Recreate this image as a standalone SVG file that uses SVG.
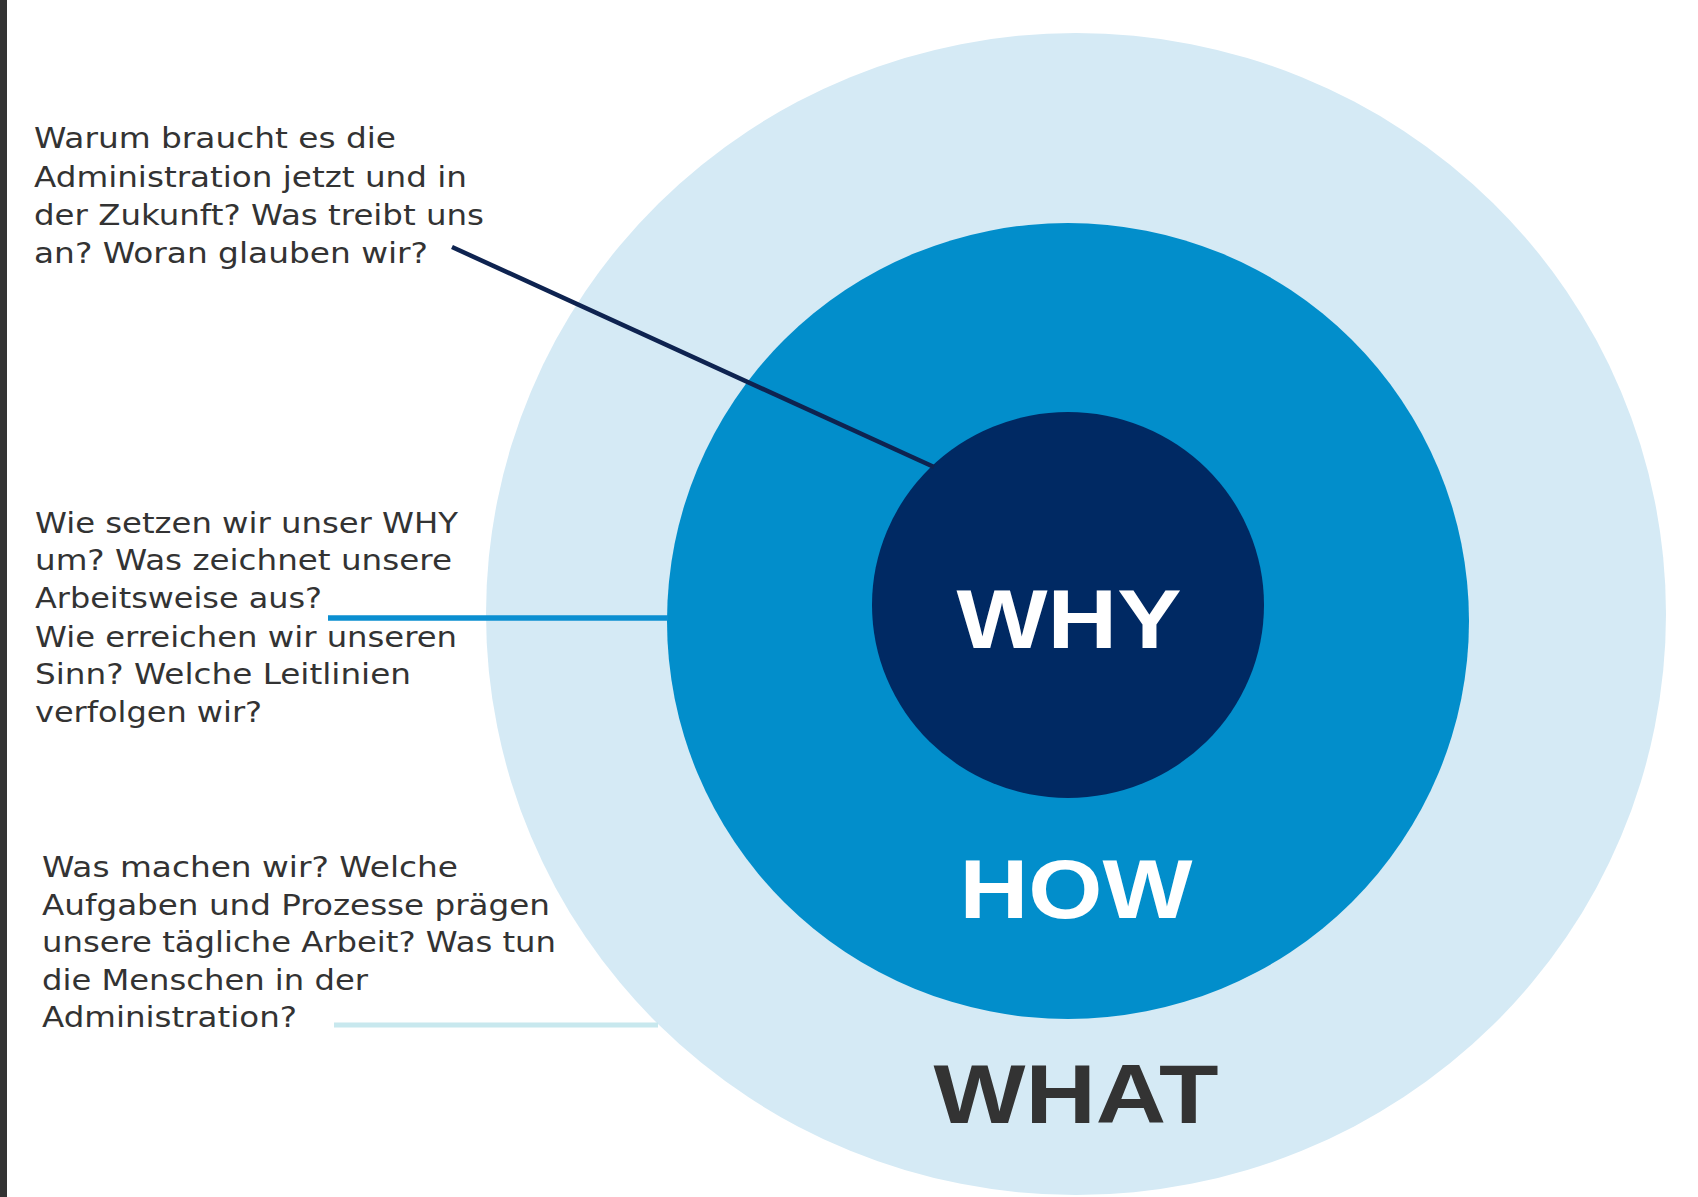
<svg xmlns="http://www.w3.org/2000/svg" width="1698" height="1197" viewBox="0 0 1698 1197">
<style>
.q{font-family:"DejaVu Sans","Open Sans",sans-serif;font-size:29px;fill:#333333;}
.h{font-family:"Liberation Sans","DejaVu Sans",sans-serif;font-weight:bold;font-size:84px;text-anchor:middle;}
</style>
<rect x="0" y="0" width="1698" height="1197" fill="#ffffff"/>
<rect x="0" y="0" width="7" height="1197" fill="#333333"/>
<g id="what">
<ellipse cx="1076" cy="614" rx="590" ry="581" fill="#d5eaf5"/>
<text class="h" x="1076" y="1123" fill="#333333" textLength="285" lengthAdjust="spacingAndGlyphs">WHAT</text>
</g>
<g id="how">
<ellipse cx="1068" cy="621" rx="401" ry="398" fill="#028ecb"/>
<text class="h" x="1076" y="918" fill="#ffffff" textLength="233" lengthAdjust="spacingAndGlyphs">HOW</text>
</g>
<g id="why">
<ellipse cx="1068" cy="605" rx="196" ry="193" fill="#002963"/>
<text class="h" x="1069" y="648" fill="#ffffff" textLength="225" lengthAdjust="spacingAndGlyphs">WHY</text>
</g>
<g id="connectors" fill="none">
<line x1="452" y1="247" x2="934" y2="467" stroke="#0e2350" stroke-width="4.5"/>
<line x1="328" y1="618" x2="668" y2="618" stroke="#0b8fd1" stroke-width="5.5"/>
<line x1="334" y1="1025" x2="658" y2="1025" stroke="#c8e8ee" stroke-width="5"/>
</g>
<g id="why-question">
<text class="q" x="34" y="148" textLength="362" lengthAdjust="spacingAndGlyphs">Warum braucht es die</text>
<text class="q" x="34" y="187" textLength="433" lengthAdjust="spacingAndGlyphs">Administration jetzt und in</text>
<text class="q" x="34" y="225" textLength="450" lengthAdjust="spacingAndGlyphs">der Zukunft? Was treibt uns</text>
<text class="q" x="34" y="263" textLength="394" lengthAdjust="spacingAndGlyphs">an? Woran glauben wir?</text>
</g>
<g id="how-question">
<text class="q" x="35" y="533" textLength="423" lengthAdjust="spacingAndGlyphs">Wie setzen wir unser WHY</text>
<text class="q" x="35" y="570" textLength="417" lengthAdjust="spacingAndGlyphs">um? Was zeichnet unsere</text>
<text class="q" x="35" y="608" textLength="287" lengthAdjust="spacingAndGlyphs">Arbeitsweise aus?</text>
<text class="q" x="35" y="647" textLength="422" lengthAdjust="spacingAndGlyphs">Wie erreichen wir unseren</text>
<text class="q" x="35" y="684" textLength="376" lengthAdjust="spacingAndGlyphs">Sinn? Welche Leitlinien</text>
<text class="q" x="35" y="722" textLength="227" lengthAdjust="spacingAndGlyphs">verfolgen wir?</text>
</g>
<g id="what-question">
<text class="q" x="42" y="877" textLength="416" lengthAdjust="spacingAndGlyphs">Was machen wir? Welche</text>
<text class="q" x="42" y="915" textLength="508" lengthAdjust="spacingAndGlyphs">Aufgaben und Prozesse prägen</text>
<text class="q" x="42" y="952" textLength="514" lengthAdjust="spacingAndGlyphs">unsere tägliche Arbeit? Was tun</text>
<text class="q" x="42" y="990" textLength="326" lengthAdjust="spacingAndGlyphs">die Menschen in der</text>
<text class="q" x="42" y="1027" textLength="255" lengthAdjust="spacingAndGlyphs">Administration?</text>
</g>
</svg>
